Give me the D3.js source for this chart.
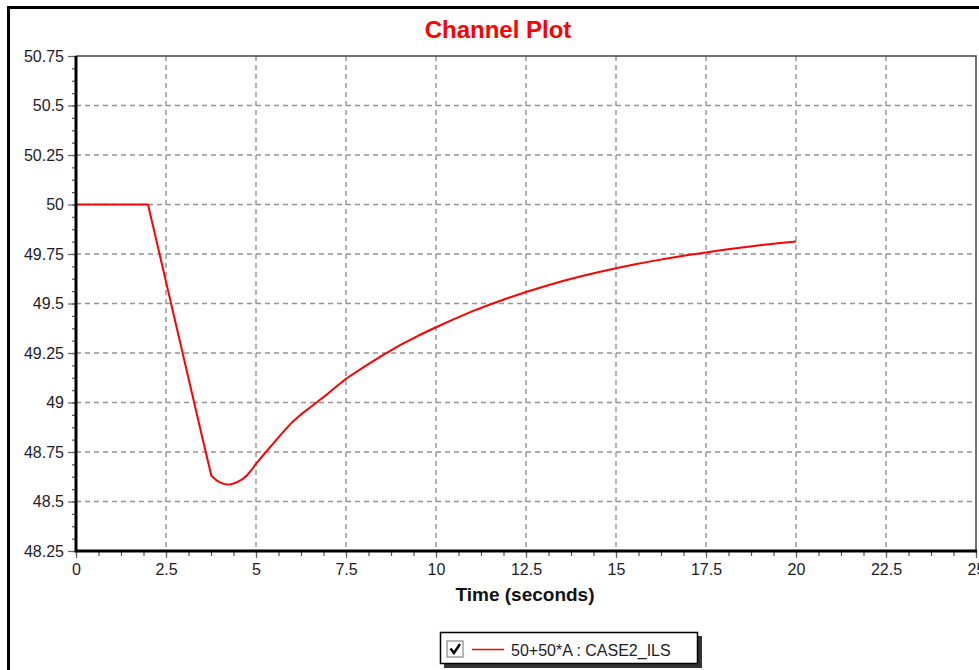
<!DOCTYPE html>
<html>
<head>
<meta charset="utf-8">
<script src="https://cdn.jsdelivr.net/npm/d3@7"></script>
<style>
  html, body { margin: 0; padding: 0; background: #fff; }
  svg { display: block; }
  text { font-family: "Liberation Sans", Arial, sans-serif; }
</style>
</head>
<body>
<svg id="chart" width="979" height="670"></svg>
<script>
// ---- data ----
const times = [0, 2.0, 2.5, 3.0, 3.5, 3.76, 3.9, 4.0, 4.1, 4.2, 4.3, 4.4, 4.5, 4.6, 4.75, 4.9, 5.0,
  5.25, 5.5, 5.75, 6.0, 6.25, 6.5, 6.75, 7.0, 7.25, 7.5, 8.0, 8.5, 9.0, 9.5, 10, 10.5, 11, 11.5, 12,
  12.5, 13, 13.5, 14, 14.5, 15, 15.5, 16, 16.5, 17, 17.5, 18, 18.5, 19, 19.5, 20];
const values = [50, 50, 49.61, 49.22, 48.83, 48.63, 48.607, 48.597, 48.589, 48.586, 48.587, 48.592,
  48.600, 48.610, 48.632, 48.665, 48.69,
  48.745, 48.797, 48.85, 48.90, 48.94, 48.975, 49.01, 49.045, 49.083, 49.12, 49.18, 49.237, 49.29,
  49.337, 49.38, 49.421, 49.46, 49.495, 49.528, 49.558, 49.586, 49.612, 49.636, 49.658, 49.678, 49.697,
  49.714, 49.73, 49.745, 49.758, 49.771, 49.783, 49.794, 49.804, 49.813];
const xTicks = [0, 2.5, 5, 7.5, 10, 12.5, 15, 17.5, 20, 22.5, 25];
const xTickLabels = ["0", "2.5", "5", "7.5", "10", "12.5", "15", "17.5", "20", "22.5", "25"];
const yTicks = [48.25, 48.5, 48.75, 49, 49.25, 49.5, 49.75, 50, 50.25, 50.5, 50.75];
const yTickLabels = ["48.25", "48.5", "48.75", "49", "49.25", "49.5", "49.75", "50", "50.25", "50.5", "50.75"];
const seriesName = "50+50*A : CASE2_ILS";
const titleText = "Channel Plot";
const xTitle = "Time (seconds)";

// ---- layout ----
const svg = d3.select("#chart");
const L = 76, R = 976, T = 56, B = 551;
const x = d3.scaleLinear().domain([0, 25]).range([L, R]);
const y = d3.scaleLinear().domain([48.25, 50.75]).range([B, T]);

// outer frame
svg.append("path")
  .attr("d", `M8.5,680 L8.5,7.5 L990,7.5`)
  .attr("fill", "none").attr("stroke", "#000").attr("stroke-width", 3);

// title
svg.append("text").attr("x", 498).attr("y", 38).attr("text-anchor", "middle")
  .attr("font-size", 24).attr("font-weight", "bold").attr("fill", "#ff0000").text(titleText);

// gridlines
const grid = svg.append("g").attr("stroke", "#939393").attr("stroke-width", 1.4)
  .attr("stroke-dasharray", "5,4");
grid.selectAll("line.v").data(xTicks.slice(1, -1)).join("line")
  .attr("x1", d => x(d)).attr("x2", d => x(d)).attr("y1", T).attr("y2", B);
grid.selectAll("line.h").data(yTicks.slice(1, -1)).join("line")
  .attr("x1", L).attr("x2", R).attr("y1", d => y(d)).attr("y2", d => y(d));

// top/right border
svg.append("path").attr("d", `M${L},${T} L${R},${T} L${R},${B}`)
  .attr("fill", "none").attr("stroke", "#444").attr("stroke-width", 1.5);

// minor ticks
const xMinor = d3.range(0, 25.001, 0.625);
const yMinor = d3.range(48.25, 50.7501, 0.0625);
const xMinorAxis = d3.axisBottom(x).tickValues(xMinor).tickSize(5).tickFormat("");
const yMinorAxis = d3.axisLeft(y).tickValues(yMinor).tickSize(4).tickFormat("");
svg.append("g").attr("transform", `translate(0,${B})`).call(xMinorAxis)
  .call(g => g.select(".domain").remove())
  .call(g => g.selectAll("line").attr("stroke", "#555").attr("stroke-width", 1.2));
svg.append("g").attr("transform", `translate(${L},0)`).call(yMinorAxis)
  .call(g => g.select(".domain").remove())
  .call(g => g.selectAll("line").attr("stroke", "#555").attr("stroke-width", 1.2));

// major axes
const xAxis = d3.axisBottom(x).tickValues(xTicks).tickSize(7).tickPadding(6)
  .tickFormat((d, i) => xTickLabels[i]);
const yAxis = d3.axisLeft(y).tickValues(yTicks).tickSize(8).tickPadding(4)
  .tickFormat((d, i) => yTickLabels[i]);
svg.append("g").attr("transform", `translate(0,${B})`).call(xAxis)
  .call(g => g.select(".domain").remove())
  .call(g => g.selectAll("line").attr("stroke", "#666").attr("stroke-width", 1.2))
  .call(g => g.selectAll("text").attr("font-size", 16).attr("fill", "#1c1c2a")
    .attr("font-family", "'Liberation Sans', Arial, sans-serif"));
svg.append("g").attr("transform", `translate(${L},0)`).call(yAxis)
  .call(g => g.select(".domain").remove())
  .call(g => g.selectAll("line").attr("stroke", "#666").attr("stroke-width", 1.2))
  .call(g => g.selectAll("text").attr("font-size", 16).attr("fill", "#1c1c2a")
    .attr("font-family", "'Liberation Sans', Arial, sans-serif"));

// series line
const data = times.map((t, i) => ({ t, v: values[i] }));
svg.append("path").datum(data)
  .attr("fill", "none").attr("stroke", "#ff0000").attr("stroke-width", 2)
  .attr("stroke-linejoin", "round")
  .attr("d", d3.line().x(d => x(d.t)).y(d => y(d.v)));

// thick left & bottom axis lines
svg.append("path").attr("d", `M${L},${T} L${L},${B} L${R + 1},${B}`)
  .attr("fill", "none").attr("stroke", "#000").attr("stroke-width", 3);

// x title
svg.append("text").attr("x", 525).attr("y", 601).attr("text-anchor", "middle")
  .attr("font-size", 19).attr("font-weight", "bold").attr("fill", "#111").text(xTitle);

// legend
const lg = svg.append("g");
lg.append("rect").attr("x", 444).attr("y", 636).attr("width", 258).attr("height", 32).attr("fill", "#333");
lg.append("rect").attr("x", 440.5).attr("y", 632.5).attr("width", 257).attr("height", 31)
  .attr("fill", "#fff").attr("stroke", "#000").attr("stroke-width", 1.5);
lg.append("rect").attr("x", 447).attr("y", 641).attr("width", 16).attr("height", 16)
  .attr("fill", "#fff").attr("stroke", "#888").attr("stroke-width", 1.2);
lg.append("path").attr("d", "M450.5,648.5 L454,653 L460,644")
  .attr("fill", "none").attr("stroke", "#000").attr("stroke-width", 2.4);
lg.append("line").attr("x1", 472).attr("x2", 504).attr("y1", 649.5).attr("y2", 649.5)
  .attr("stroke", "#ff0000").attr("stroke-width", 1.5);
lg.append("text").attr("x", 511).attr("y", 656).attr("font-size", 16).attr("fill", "#1c1c2a").text(seriesName);
</script>
</body>
</html>
